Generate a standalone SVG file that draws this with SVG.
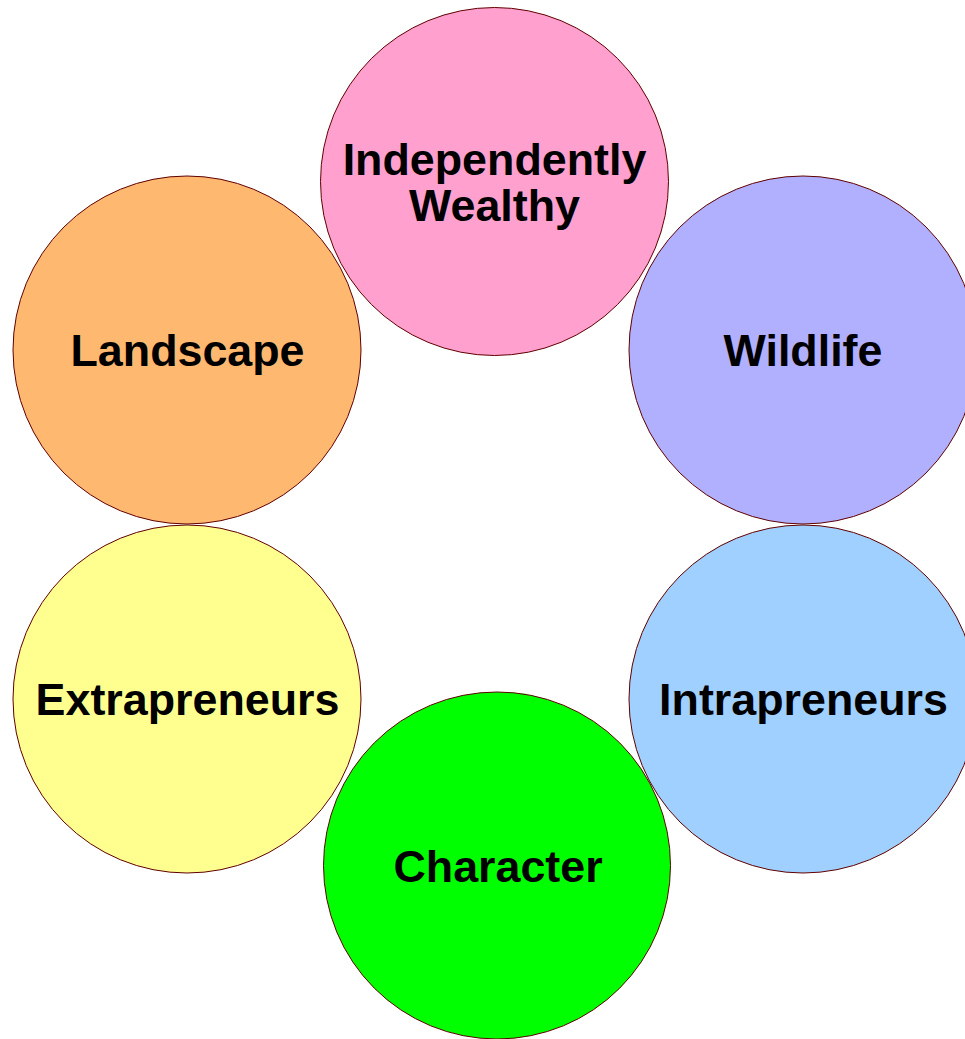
<svg xmlns="http://www.w3.org/2000/svg" width="965" height="1039" viewBox="0 0 965 1039">
<style>
.c{stroke:#600000;stroke-width:1}
.t{font-family:"Liberation Sans",Arial,sans-serif;font-weight:bold;font-size:44.8px;text-anchor:middle;fill:#000}
</style>
<rect width="965" height="1039" fill="#fff"/>
<g id="connectors"/>
<g id="node-wealthy"><circle class="c" cx="494.5" cy="181.5" r="174" fill="#FFA0CF"/><text class="t" x="494.5" y="175">Independently</text><text class="t" x="494.5" y="221">Wealthy</text></g>
<g id="node-landscape"><circle class="c" cx="187" cy="350" r="174" fill="#FFB870"/><text class="t" x="187.5" y="366">Landscape</text></g>
<g id="node-wildlife"><circle class="c" cx="803" cy="350" r="174" fill="#B0B0FF"/><text class="t" x="803" y="366">Wildlife</text></g>
<g id="node-extrapreneurs"><circle class="c" cx="187" cy="699" r="174" fill="#FFFF90"/><text class="t" x="187.5" y="715">Extrapreneurs</text></g>
<g id="node-intrapreneurs"><circle class="c" cx="803" cy="699" r="174" fill="#A0D0FF"/><text class="t" x="803.5" y="715">Intrapreneurs</text></g>
<g id="node-character"><circle class="c" cx="497" cy="865.5" r="173.5" fill="#00FF00"/><text class="t" x="498" y="882">Character</text></g>
</svg>
